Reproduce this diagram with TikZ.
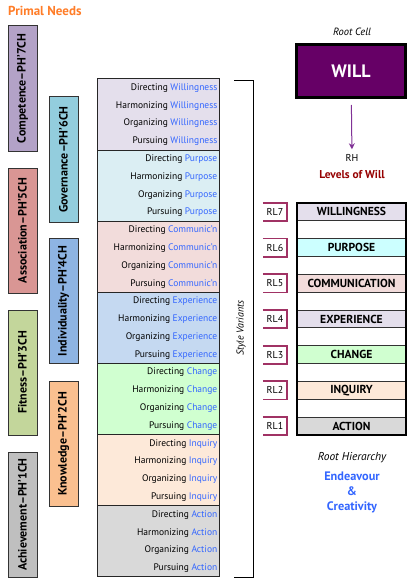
\documentclass[tikz,border=0pt]{standalone}
\usepackage{fontspec}
\setmainfont{PT Sans}
\usetikzlibrary{arrows.meta}
\definecolor{orangeT}{RGB}{255,125,40}
\definecolor{pComp}{RGB}{179,162,199}
\definecolor{pAsso}{RGB}{217,150,148}
\definecolor{pFit}{RGB}{195,214,155}
\definecolor{pAch}{RGB}{191,191,191}
\definecolor{pGov}{RGB}{147,205,221}
\definecolor{pInd}{RGB}{142,180,227}
\definecolor{pKno}{RGB}{250,192,144}
\definecolor{sW}{RGB}{228,223,236}
\definecolor{sP}{RGB}{219,238,243}
\definecolor{sC}{RGB}{242,220,219}
\definecolor{sE}{RGB}{197,217,241}
\definecolor{sCh}{RGB}{208,255,208}
\definecolor{sI}{RGB}{253,233,217}
\definecolor{sA}{RGB}{217,217,217}
\definecolor{lP}{RGB}{204,255,255}
\definecolor{blueT}{RGB}{51,102,255}
\definecolor{willc}{RGB}{102,0,102}
\definecolor{arrowc}{RGB}{128,50,150}
\definecolor{darkred}{RGB}{150,0,0}
\definecolor{maroon}{RGB}{160,50,100}
\tikzset{
  pn/.style={draw=black!80, line width=1pt, rotate=90, minimum width=125pt, minimum height=29pt, inner sep=0pt, font=\fontsize{12}{13}\selectfont\bfseries},
  sect/.style={draw=black!85, line width=1pt, minimum width=122pt, minimum height=71.14pt, inner sep=0pt},
  rowtxt/.style={anchor=east, inner sep=0pt, font=\fontsize{9.5}{10}\selectfont},
  lvl/.style={draw=black!80, line width=1pt, minimum width=109pt, minimum height=17.85pt, inner sep=0pt, font=\fontsize{11.6}{12}\selectfont\bfseries},
  rlbox/.style={fill=white, minimum width=24pt, minimum height=17.85pt, inner sep=0pt, font=\fontsize{10}{11}\selectfont},
  lab/.style={inner sep=0pt, font=\fontsize{9}{10}\selectfont},
}
\begin{document}
\begin{tikzpicture}[x=1pt,y=-1pt]
\useasboundingbox (0,0) rectangle (414,583);
\fill[white] (0,0) rectangle (414,583);
% title
\node[anchor=west, inner sep=0pt, text=orangeT, font=\fontsize{13}{14}\selectfont\bfseries] (title) at (8,11) {Primal Needs};
% primal needs boxes
\node[pn, fill=pComp] (comp) at (22.5,88.5) {Competence–PH'7CH};
\node[pn, fill=pAsso] (asso) at (22.5,230.5) {Association–PH'5CH};
\node[pn, fill=pFit] (fit) at (22.5,372.5) {Fitness–PH'3CH};
\node[pn, fill=pAch] (ach) at (22.5,514.5) {Achievement–PH'1CH};
\node[pn, fill=pGov] (gov) at (63.5,159.5) {Governance–PH'6CH};
\node[pn, fill=pInd] (ind) at (63.5,301) {Individuality–PH'4CH};
\node[pn, fill=pKno] (kno) at (63.5,444) {Knowledge–PH'2CH};
% table
\foreach \w/\c [count=\i from 0] in {Willingness/sW, Purpose/sP, Communic'n/sC, Experience/sE, Change/sCh, Inquiry/sI, Action/sA}{
  \node[sect, fill=\c] (s\i) at (158, {79+35.57+\i*71.14}) {};
  \foreach \v [count=\j from 0] in {Directing,Harmonizing,Organizing,Pursuing}{
    \node[rowtxt] (t\i\j) at (217.5, {79+9.0+\i*71.14+\j*17.786}) {\v\ \textcolor{blueT}{\w}};
  }
}
% bracket
\coordinate (bt) at (234,80);
\coordinate (bb) at (234,577);
\draw[line width=0.9pt] (bt) -- ++(19.5,0) |- (bb);
\node[rotate=90, inner sep=0pt, font=\fontsize{10}{11}\selectfont\itshape] (sv) at (241,328) {Style Variants};
% root cell
\node[lab, font=\fontsize{10.5}{11}\selectfont\itshape] (rc) at (352,32) {Root Cell};
\node[draw=black, line width=3pt, fill=willc, minimum width=109pt, minimum height=53pt, inner sep=0pt, text=white, font=\fontsize{18}{20}\selectfont\bfseries] (will) at (351,71) {WILL};
\node[lab, font=\fontsize{10}{11}\selectfont] (rh) at (352,158) {RH};
\node[lab, text=darkred, font=\fontsize{11.4}{12}\selectfont\bfseries] (lw) at (352,175) {Levels of Will};
\draw[arrowc, line width=1pt, -{Stealth[length=6pt,width=6pt]}, shorten <=6pt, shorten >=5pt] (will) -- (rh);
% levels
\foreach \t/\c/\r [count=\i from 0] in {WILLINGNESS/sW/7, PURPOSE/lP/6, COMMUNICATION/sC/5, EXPERIENCE/sW/4, CHANGE/sCh/3, INQUIRY/sI/2, ACTION/sA/1}{
  \node[lvl, fill=\c] (l\r) at (351.5, {203+8.925+2*\i*17.85}) {\t};
  \node[rlbox] (rl\r) at (275, {203+8.925+2*\i*17.85}) {RL\r};
  \draw[maroon, line width=1.8pt] (rl\r.north west) -- (rl\r.north east) -- (rl\r.south east) -- (rl\r.south west);
}
\foreach \i in {0,...,5}{
  \node[lvl, fill=white] (w\i) at (351.5, {203+8.925+(2*\i+1)*17.85}) {};
}
\draw[line width=2.5pt] (297,203) rectangle (406,435);
% bottom texts
\node[lab, font=\fontsize{11.4}{12}\selectfont\itshape] (rhier) at (352,458) {Root Hierarchy};
\node[lab, text=blueT, font=\fontsize{12.3}{15}\selectfont\bfseries, align=center] (ec) at (352,492) {Endeavour\\\&\\Creativity};
\end{tikzpicture}
\end{document}
